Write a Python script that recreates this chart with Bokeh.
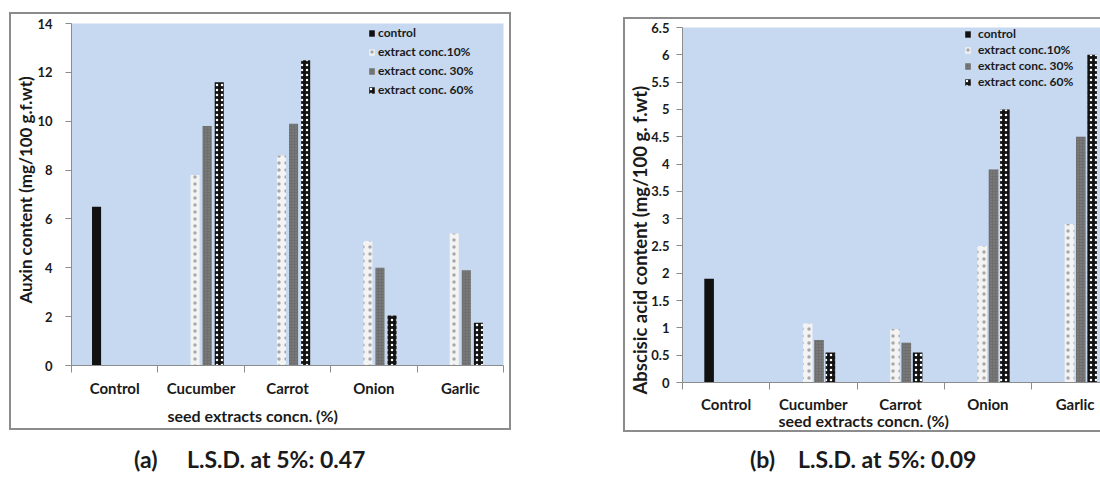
import numpy as np
from bokeh.plotting import figure
from bokeh.models import (ColumnDataSource, Legend, LegendItem, FixedTicker, Title,
                          NumeralTickFormatter, Range1d, Div, Spacer)
from bokeh.layouts import row, column
from bokeh.transform import dodge
from bokeh.embed import file_html
from bokeh.resources import INLINE

# ---------------- data ----------------
categories = ["Control", "Cucumber", "Carrot", "Onion", "Garlic"]
series_labels = ["control", "extract conc.10%", "extract conc. 30%", "extract conc. 60%"]

auxin_control = [6.5, None, None, None, None]
auxin_10 = [None, 7.8, 8.6, 5.1, 5.4]
auxin_30 = [None, 9.8, 9.9, 4.0, 3.9]
auxin_60 = [None, 11.6, 12.5, 2.05, 1.75]

aba_control = [1.9, None, None, None, None]
aba_10 = [None, 1.08, 0.98, 2.5, 2.9]
aba_30 = [None, 0.78, 0.73, 3.9, 4.5]
aba_60 = [None, 0.55, 0.55, 5.0, 6.0]

auxin_ticks = [0, 2, 4, 6, 8, 10, 12, 14]
aba_ticks = [0, 0.5, 1, 1.5, 2, 2.5, 3, 3.5, 4, 4.5, 5, 5.5, 6, 6.5]

auxin_ylabel = "Auxin content (mg/100 g.f.wt)"
aba_ylabel = "Abscisic acid content (mg/100 g. f.wt)"
xlabel = "seed extracts concn. (%)"
caption_a = ("(a)", "L.S.D. at 5%: 0.47")
caption_b = ("(b)", "L.S.D. at 5%: 0.09")

# ---------------- style ----------------
FONT = "Lato"
GREY = "#8c8c8c"
TEXT = "#1a1a1a"
BG = "#c6d9f1"

bar_styles = [
    dict(fill_color="#111111"),
    dict(fill_color="#f3f3f3", hatch_pattern="dot", hatch_color="#a8a8a8",
         hatch_scale=7, hatch_weight=1),
    dict(fill_color="#6e6e6e", hatch_pattern="dot", hatch_color="#888888",
         hatch_scale=3, hatch_weight=0.6),
    dict(fill_color="#121212", hatch_pattern="dot", hatch_color="#ffffff",
         hatch_scale=5, hatch_weight=1.6),
]


def arr(v):
    return np.array([np.nan if x is None else x for x in v], dtype=float)


def make_panel(width, height, xend, ymax, ticks, series, offsets, bw, mb, ylabel,
               ytitle_size, ytitle_offset, ytitle_standoff, xtitle_offset, xtitle_standoff,
               legend_loc, legend_spacing, legend_lh, legend_standoff,
               ytick_standoff, xlab_standoff, box_style):
    p = figure(width=width, height=height, x_range=Range1d(0, xend), y_range=Range1d(0, ymax),
               output_backend="svg", toolbar_location=None,
               min_border_left=mb[0], min_border_right=mb[1],
               min_border_top=mb[2], min_border_bottom=mb[3],
               background_fill_color=BG, border_fill_color=None,
               outline_line_color=None, styles=box_style)
    p.grid.visible = False

    xs = [i + 0.5 for i in range(len(categories))]
    data = dict(x=xs)
    for k, s in enumerate(series):
        data["s%d" % k] = arr(s)
    src = ColumnDataSource(data)

    rends = []
    for k in range(len(series)):
        r = p.vbar(x=dodge("x", offsets[k]), top="s%d" % k, width=bw, source=src,
                   line_color=None, **bar_styles[k])
        rends.append(r)

    # x axis: labels at category centres, tick marks at category boundaries
    xa = p.xaxis[0]
    xa.ticker = FixedTicker(ticks=xs, minor_ticks=list(range(len(categories) + 1)))
    xa.major_label_overrides = {x: c for x, c in zip(xs, categories)}
    xa.major_tick_line_color = None
    xa.major_tick_out = 0
    xa.major_tick_in = 0
    xa.minor_tick_out = 7
    xa.minor_tick_in = 0
    xa.minor_tick_line_color = GREY
    xa.axis_line_color = GREY
    xa.major_label_standoff = xlab_standoff
    xa.major_label_text_font = FONT
    xa.major_label_text_font_style = "bold"
    xa.major_label_text_font_size = "15px"
    xa.major_label_text_color = TEXT

    ya = p.yaxis[0]
    ya.ticker = FixedTicker(ticks=ticks)
    ya.formatter = NumeralTickFormatter(format="0.[0]")
    ya.minor_tick_line_color = None
    ya.major_tick_out = 6
    ya.major_tick_in = 0
    ya.major_tick_line_color = GREY
    ya.axis_line_color = GREY
    ya.major_label_standoff = ytick_standoff
    ya.major_label_text_font = FONT
    ya.major_label_text_font_style = "bold"
    ya.major_label_text_font_size = "13px"
    ya.major_label_text_color = TEXT

    legend = Legend(items=[LegendItem(label=l, renderers=[r]) for l, r in zip(series_labels, rends)],
                    location=legend_loc, orientation="vertical", padding=0, margin=0,
                    spacing=legend_spacing, glyph_width=7, glyph_height=8,
                    label_height=legend_lh, label_standoff=legend_standoff,
                    label_text_font=FONT, label_text_font_style="bold",
                    label_text_font_size="12px", label_text_color=TEXT,
                    background_fill_alpha=0, border_line_color=None)
    p.add_layout(legend)

    p.add_layout(Title(text=ylabel, align="left", offset=ytitle_offset,
                       standoff=ytitle_standoff, text_font=FONT, text_font_style="bold",
                       text_font_size=ytitle_size, text_color=TEXT), "left")
    p.add_layout(Title(text=xlabel, align="left", offset=xtitle_offset,
                       standoff=xtitle_standoff, text_font=FONT, text_font_style="bold",
                       text_font_size="16px", text_color=TEXT), "below")
    return p


def caption_div(width, height, top, parts):
    spans = "".join(
        '<span style="position:absolute;left:{}px;top:{}px;white-space:nowrap;">{}</span>'.format(x, top, t)
        for x, t in parts)
    html = ('<div style="position:relative;width:{}px;height:{}px;font-family:Lato;'
            'font-weight:bold;font-size:23px;line-height:26px;color:{};">{}</div>').format(
        width, height, TEXT, spans)
    return Div(text=html, width=width, height=height)


SHADOW = "#8c8c8c"
box_a = {"box-shadow": ("inset 2px 0 0 0 {c}, inset -2px 0 0 0 {c}, "
                        "inset 0 2px 0 0 {c}, inset 0 -2px 0 0 {c}").format(c=SHADOW)}
box_b = {"box-shadow": ("inset 2px 0 0 0 {c}, inset 0 2px 0 0 {c}, "
                        "inset 0 -2px 0 0 {c}").format(c=SHADOW)}

# panel (a): page x 9..511, y 12..430
fig_a = make_panel(
    width=502, height=418, xend=5, ymax=14, ticks=auxin_ticks,
    series=[auxin_control, auxin_10, auxin_30, auxin_60],
    offsets=[-0.21, -0.07, 0.07, 0.21], bw=0.105,
    mb=(62, 8, 11, 65), ylabel=auxin_ylabel, ytitle_size="17px",
    ytitle_offset=62, ytitle_standoff=-2, xtitle_offset=96, xtitle_standoff=8,
    legend_loc=(297, 268), legend_spacing=4, legend_lh=15, legend_standoff=3,
    ytick_standoff=13, xlab_standoff=6, box_style=box_a)

# panel (b): page x 613..1100, y 17..432
fig_b = make_panel(
    width=487, height=415, xend=428 / 87.25, ymax=6.5, ticks=aba_ticks,
    series=[aba_control, aba_10, aba_30, aba_60],
    offsets=[-0.195, -0.065, 0.065, 0.195], bw=0.11,
    mb=(59, 0, 10, 50), ylabel=aba_ylabel, ytitle_size="18.5px",
    ytitle_offset=-12, ytitle_standoff=-4, xtitle_offset=96, xtitle_standoff=-14,
    legend_loc=(282, 293), legend_spacing=1, legend_lh=14, legend_standoff=7,
    ytick_standoff=7, xlab_standoff=5, box_style=box_b)

cap_a = caption_div(502, 40, 11, [(120, caption_a[0]), (173, caption_a[1])])
cap_b = caption_div(487, 40, 9, [(122, caption_b[0]), (170, caption_b[1])])

col_a = column(Spacer(width=502, height=12), fig_a, cap_a)
col_b = column(Spacer(width=487, height=17), fig_b, cap_b)
layout = row(Spacer(width=9, height=10), col_a, Spacer(width=102, height=10), col_b)
open("out.html", "w").write(file_html(layout, INLINE))
